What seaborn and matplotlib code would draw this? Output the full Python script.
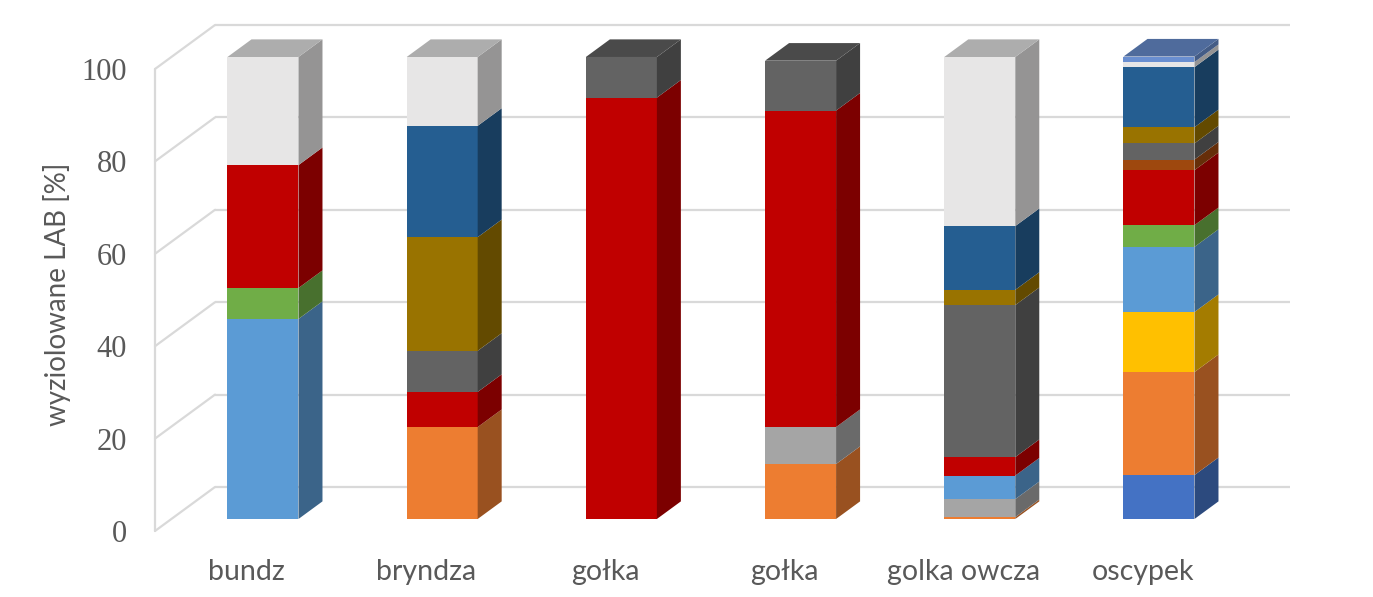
import numpy as np
import matplotlib
matplotlib.use("Agg")
import matplotlib.pyplot as plt
import seaborn as sns
from matplotlib.patches import Polygon
from matplotlib.colors import to_rgb

# ---------------- data ----------------
categories = ["bundz", "bryndza", "gołka", "gołka", "golka owcza", "oscypek"]
yticks = [0, 20, 40, 60, 80, 100]
ylabel = "wyziolowane LAB [%]"

# one series per LAB group, values per category (stacked bottom -> top)
lab_s01 = [0.0, 0.0, 0.0, 0.0, 0.0, 9.5]
lab_s02 = [0.0, 19.9, 0.0, 11.9, 0.4, 22.3]
lab_s03 = [0.0, 0.0, 0.0, 8.0, 3.9, 0.0]
lab_s04 = [0.0, 0.0, 0.0, 0.0, 0.0, 13.0]
lab_s05 = [43.3, 0.0, 0.0, 0.0, 5.1, 14.1]
lab_s06 = [6.7, 0.0, 0.0, 0.0, 0.0, 4.7]
lab_s07 = [26.6, 7.6, 91.2, 68.5, 4.0, 11.9]
lab_s08 = [0.0, 0.0, 0.0, 0.0, 0.0, 2.3]
lab_s09 = [0.0, 8.9, 8.8, 10.8, 32.9, 3.5]
lab_s10 = [0.0, 24.6, 0.0, 0.0, 3.3, 3.5]
lab_s11 = [0.0, 24.1, 0.0, 0.0, 13.8, 13.0]
lab_s12 = [23.4, 14.9, 0.0, 0.0, 36.6, 1.1]
lab_s13 = [0.0, 0.0, 0.0, 0.0, 0.0, 1.2]

series = [lab_s01, lab_s02, lab_s03, lab_s04, lab_s05, lab_s06, lab_s07,
          lab_s08, lab_s09, lab_s10, lab_s11, lab_s12, lab_s13]
colors = ["#4472C4", "#ED7D31", "#A5A5A5", "#FFC000", "#5B9BD5", "#70AD47",
          "#C00000", "#9E480E", "#636363", "#997300", "#255E91", "#E7E6E6",
          "#698ED0"]

# ---------------- style ----------------
sns.set_theme(style="white")
plt.rcParams['font.family'] = ['Lato', 'DejaVu Sans']
TXT = "#595959"
GRID = "#d9d9d9"

W, H = 1373, 597
fig = plt.figure(figsize=(W / 100, H / 100), dpi=100)
L, R, T, B = 155, 1300, 10, 545
ax = fig.add_axes([L / W, 1 - B / H, (R - L) / W, (B - T) / H])

# oblique projection parameters (pixels)
X0, SX = 246.6, 179.2
Y0, SY = 531.0, 4.62
ax.set_xlim((L - X0) / SX, (R - X0) / SX)
ax.set_ylim((Y0 - B) / SY, (Y0 - T) / SY)
depth_dx = 60 / SX
depth_dy = 44 / SY
t0, t1 = 0.273, 0.673
fx, fy = t0 * depth_dx, t0 * depth_dy
bdx, bdy = (t1 - t0) * depth_dx, (t1 - t0) * depth_dy
bw = 71 / SX

# walls
xf = (155 - X0) / SX
xb_end = (1290 - X0) / SX
for v in yticks:
    ax.plot([xf + depth_dx, xb_end], [v + depth_dy] * 2, color=GRID, lw=1.6,
            zorder=0, solid_capstyle="butt")
    ax.plot([xf, xf + depth_dx], [v, v + depth_dy], color=GRID, lw=1.6,
            zorder=0, clip_on=False)
ax.plot([xf, xf], [0, 100], color=GRID, lw=1.6, zorder=0, clip_on=False)

# bars
pos = np.arange(len(categories), dtype=float)
cum = np.zeros(len(categories))
top_color = [None] * len(categories)
for vals, c in zip(series, colors):
    vals = np.asarray(vals, dtype=float)
    sns.barplot(x=pos + fx, y=vals, bottom=cum + fy, native_scale=True,
                width=bw, color=c, saturation=1, errorbar=None,
                linewidth=0, ax=ax, zorder=3)
    rgb = np.array(to_rgb(c))
    for i, v in enumerate(vals):
        if v <= 0:
            continue
        xr = pos[i] + fx + bw / 2
        b0, b1 = cum[i] + fy, cum[i] + v + fy
        ax.add_patch(Polygon([(xr, b0), (xr + bdx, b0 + bdy),
                              (xr + bdx, b1 + bdy), (xr, b1)],
                             closed=True, facecolor=rgb * 0.645,
                             edgecolor="none", zorder=3))
        top_color[i] = rgb
    cum += vals

for i, c in enumerate(top_color):
    xl = pos[i] + fx - bw / 2
    xr = pos[i] + fx + bw / 2
    y = cum[i] + fy
    ax.add_patch(Polygon([(xl, y), (xr, y), (xr + bdx, y + bdy), (xl + bdx, y + bdy)],
                         closed=True, facecolor=c * 0.75, edgecolor="none", zorder=3))

# axes text
ax.set_xlim((L - X0) / SX, (R - X0) / SX)
ax.set_ylim((Y0 - B) / SY, (Y0 - T) / SY)
ax.set_xticks(pos)
ax.set_xticklabels(categories, fontsize=20.5, color=TXT)
ax.set_yticks(yticks)
ax.set_yticklabels([str(v) for v in yticks], fontsize=22, color=TXT,
                   family=["Liberation Serif", "DejaVu Serif"])
ax.tick_params(axis="y", length=0, pad=20)
ax.tick_params(axis="x", length=0, pad=10)
for s in ax.spines.values():
    s.set_visible(False)
ax.set_xlabel("")
ax.set_ylabel(ylabel, fontsize=20, color=TXT)
ax.yaxis.set_label_coords((57 - L) / (R - L), (B - 294) / (B - T))
ax.yaxis.label.set_va("center")
ax.grid(False)

fig.savefig("out.png", dpi=100)
